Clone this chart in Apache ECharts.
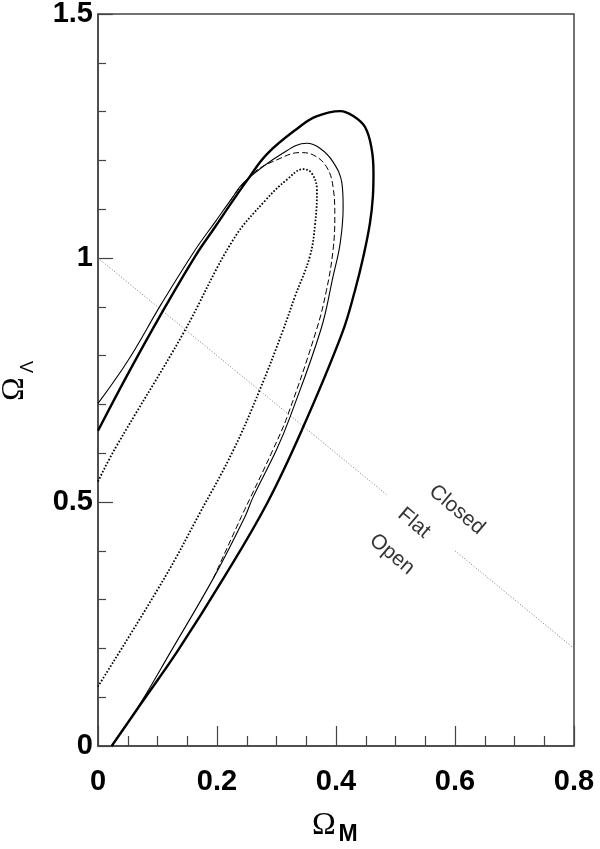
<!DOCTYPE html>
<html>
<head>
<meta charset="utf-8">
<script src="https://cdn.jsdelivr.net/npm/echarts@6/dist/echarts.min.js"></script>
<style>
  html, body { margin: 0; padding: 0; background: #fff; }
  #chart { width: 600px; height: 849px; }
</style>
</head>
<body>
<div id="chart"></div>
<script>
// contour curves, [Omega_M, Omega_Lambda]
const thickSolid = [
  [0, 0.646], [0.051, 0.764], [0.107, 0.887], [0.163, 1.003], [0.197, 1.064],
  [0.227, 1.118], [0.250, 1.158], [0.284, 1.213], [0.339, 1.269], [0.367, 1.290],
  [0.407, 1.301], [0.429, 1.291], [0.449, 1.268], [0.460, 1.223], [0.463, 1.174],
  [0.462, 1.126], [0.457, 1.071], [0.446, 1.003], [0.432, 0.934], [0.410, 0.845],
  [0.345, 0.654], [0.284, 0.497], [0.211, 0.344], [0.135, 0.197], [0.073, 0.088],
  [0.023, 0]
]
const thinSolid = [
  [0, 0.702], [0.051, 0.791], [0.107, 0.907], [0.163, 1.016], [0.197, 1.074],
  [0.222, 1.117], [0.247, 1.157], [0.311, 1.215], [0.351, 1.235], [0.373, 1.225],
  [0.395, 1.197], [0.410, 1.153], [0.412, 1.105], [0.407, 1.030], [0.395, 0.962],
  [0.375, 0.855], [0.323, 0.675], [0.300, 0.607], [0.261, 0.511], [0.247, 0.470],
  [0.194, 0.344], [0.124, 0.197], [0.068, 0.081], [0.023, 0]
]
const dashed = [
  [0.222, 1.117], [0.261, 1.174], [0.306, 1.204], [0.339, 1.216], [0.362, 1.211],
  [0.384, 1.187], [0.395, 1.146], [0.398, 1.085], [0.395, 1.016], [0.384, 0.934],
  [0.367, 0.852], [0.318, 0.675], [0.294, 0.607], [0.257, 0.511], [0.241, 0.470],
  [0.194, 0.344]
]
const dotted = [
  [0, 0.542], [0.029, 0.610], [0.143, 0.845], [0.227, 1.037],
  [0.282, 1.119], [0.317, 1.160], [0.345, 1.182], [0.359, 1.174], [0.368, 1.139],
  [0.365, 1.071], [0.356, 1.003], [0.331, 0.921], [0.311, 0.852], [0.272, 0.730],
  [0.227, 0.605], [0.171, 0.477], [0.113, 0.347], [0, 0.122]
]
// flat universe line, broken where the labels sit
const flatLeft = [[0, 1], [0.485, 0.515]]
const flatRight = [[0.600, 0.400], [0.8, 0.2]]

const regionNames = ['Closed', 'Flat', 'Open']
const regionX = [0.603, 0.531, 0.494]
const regionY = [0.484, 0.457, 0.393]

const xTicks = ['0', '0.2', '0.4', '0.6', '0.8']
const yTicks = ['0', '0.5', '1', '1.5']

const chart = echarts.init(document.getElementById('chart'))

const axisGray = '#444'
const tickFont = { fontFamily: 'Liberation Sans', fontWeight: 'bold', fontSize: 29, color: '#000' }

const curve = (data, width, type) => ({
  type: 'line',
  data: data,
  showSymbol: false,
  smooth: 0.4,
  silent: true,
  clip: true,
  lineStyle: { color: '#000', width: width, type: type, cap: 'butt' }
})

const option = {
  animation: false,
  backgroundColor: '#fff',
  grid: {
    left: 98, right: 26, top: 14, bottom: 103,
    show: true, borderColor: axisGray, borderWidth: 1.5,
    outerBoundsMode: 'none'
  },
  xAxis: {
    type: 'value', min: 0, max: 0.8, interval: 0.2,
    axisLine: { show: true, lineStyle: { color: axisGray, width: 1.5 } },
    axisTick: { show: true, inside: true, length: 20, lineStyle: { color: axisGray, width: 1.2 } },
    minorTick: { show: true, splitNumber: 4, length: 10, lineStyle: { color: axisGray, width: 1.2 } },
    splitLine: { show: false },
    axisLabel: Object.assign({ margin: 21, formatter: (v) => xTicks[Math.round(v / 0.2)] }, tickFont)
  },
  yAxis: {
    type: 'value', min: 0, max: 1.5, interval: 0.5,
    axisLine: { show: true, lineStyle: { color: axisGray, width: 1.5 } },
    axisTick: { show: true, inside: true, length: 15, lineStyle: { color: axisGray, width: 1.2 } },
    minorTick: { show: true, splitNumber: 5, length: 8, lineStyle: { color: axisGray, width: 1.2 } },
    splitLine: { show: false },
    axisLabel: Object.assign({ margin: 5, formatter: (v) => yTicks[Math.round(v / 0.5)] }, tickFont)
  },
  series: [
    {
      type: 'line', data: flatLeft, showSymbol: false, silent: true,
      lineStyle: { color: '#777', width: 1, type: [1, 2] }
    },
    {
      type: 'line', data: flatRight, showSymbol: false, silent: true,
      lineStyle: { color: '#777', width: 1, type: [1, 2] }
    },
    curve(dotted, 1.8, [1.6, 1.8]),
    curve(dashed, 1, [6, 3]),
    curve(thinSolid, 1.1, 'solid'),
    curve(thickSolid, 2.4, 'solid'),
    {
      type: 'scatter',
      symbolSize: 0,
      silent: true,
      data: regionNames.map((n, i) => ({ name: n, value: [regionX[i], regionY[i]] })),
      label: {
        show: true, position: 'inside', formatter: '{b}', rotate: -40,
        fontFamily: 'Liberation Sans', fontSize: 21, color: '#000'
      }
    }
  ],
  graphic: [
    // Omega_M
    { type: 'text', x: 324, y: 826, silent: true,
      style: { text: 'Ω', font: '32px "Liberation Serif"', fill: '#000', align: 'center', verticalAlign: 'middle' } },
    { type: 'text', x: 348, y: 835, silent: true,
      style: { text: 'M', font: 'bold 23px "Liberation Sans"', fill: '#000', align: 'center', verticalAlign: 'middle' } },
    // Omega_Lambda, rotated
    { type: 'text', x: 15, y: 389, rotation: Math.PI / 2, silent: true,
      style: { text: 'Ω', font: '32px "Liberation Serif"', fill: '#000', align: 'center', verticalAlign: 'middle' } },
    { type: 'text', x: 28, y: 367, rotation: Math.PI / 2, silent: true,
      style: { text: 'Λ', font: '18px "Liberation Sans"', fill: '#000', align: 'center', verticalAlign: 'middle' } }
  ]
}
option && chart.setOption(option)
</script>
</body>
</html>
